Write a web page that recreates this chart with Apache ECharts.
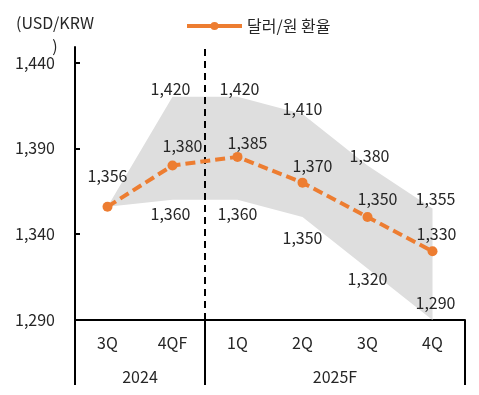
<!DOCTYPE html>
<html><head><meta charset="utf-8">
<script src="https://cdn.jsdelivr.net/npm/echarts@6/dist/echarts.min.js"></script>
<style>html,body{margin:0;padding:0;background:#fff}#c{width:479px;height:395px}</style>
</head><body><div id="c"></div>
<script>
const categories = ['3Q', '4QF', '1Q', '2Q', '3Q', '4Q'];
const years = ['2024', '2025F'];
const rate = [1356, 1380, 1385, 1370, 1350, 1330];
const upper = [1356, 1420, 1420, 1410, 1380, 1355];
const lower = [1356, 1360, 1360, 1350, 1320, 1290];
const yTicks = [1290, 1340, 1390, 1440];
const groupEdges = [0, 2, 6];   // category boundaries of year groups
const groupCenters = [1, 4];
const seriesName = '달러/원 환율';

const FONT = '"Noto Sans CJK KR", "Noto Sans", sans-serif';
const TXT = '#262626';
const fmt = v => Number(v).toLocaleString('en-US');

// label offsets (pixel nudges, style only)
const rateOff = [[0,-31],[10,-20],[10,-14],[10,-17],[10,-18],[4,-17]];
const upOff = [null,[-2,-8],[2,-8],[0,-5],[2,-10],[3,-9]];
const lowOff = [null,[-2,14],[0,14],[0,21],[0,10],[3,-17]];

const diff = upper.map((u, i) => u - lower[i]);

function labelData(vals, offs) {
  return vals.map((v, i) => ({
    value: v,
    label: offs[i] ? { show: true, offset: offs[i] } : { show: false }
  }));
}
const labelStyle = { position: 'inside', formatter: p => fmt(p.value), fontSize: 16, color: TXT, fontFamily: FONT, textBorderWidth: 0 };
function labelSeries(name, vals, offs) {
  return {
    name, type: 'scatter', data: labelData(vals, offs), z: 6,
    symbolSize: 1, itemStyle: { color: 'rgba(255,255,255,0)', opacity: 1 }, silent: true,
    label: labelStyle, emphasis: { disabled: true }
  };
}

const chart = echarts.init(document.getElementById('c'), null, { renderer: 'canvas' });
chart.setOption({
  animation: false,
  textStyle: { fontFamily: FONT },
  graphic: [{
    type: 'text', x: 55, y: 11,
    style: { text: '(USD/KRW\n)', fontSize: 16, fontFamily: FONT, fill: TXT, align: 'center', lineHeight: 23 }
  }],
  legend: {
    data: [seriesName], left: 180, top: 13,
    itemWidth: 55, itemHeight: 10, itemGap: 8,
    textStyle: { fontSize: 16, color: TXT, fontFamily: FONT },
    lineStyle: { type: 'solid', width: 4 }
  },
  grid: { left: 75, right: 14, top: 47, bottom: 75, containLabel: false },
  xAxis: [{
    type: 'category', data: categories, boundaryGap: true, position: 'bottom',
    axisLine: { show: true, lineStyle: { color: '#000', width: 2 } },
    axisTick: { show: false },
    axisLabel: { fontSize: 16, color: TXT, margin: 15, fontFamily: FONT },
    splitLine: { show: false }
  }, {
    type: 'value', min: 0, max: 6, position: 'bottom',
    axisLine: { show: false },
    axisTick: { show: true, customValues: groupEdges, length: 65, inside: false, lineStyle: { color: '#000', width: 2 } },
    axisLabel: { show: true, customValues: groupCenters, formatter: v => years[groupCenters.indexOf(v)], fontSize: 16, color: TXT, margin: 49, fontFamily: FONT },
    splitLine: { show: false }
  }],
  yAxis: {
    type: 'value', min: 1290, max: 1449,
    axisLine: { show: true, lineStyle: { color: '#000', width: 2 } },
    axisTick: { show: true, inside: true, length: 5, customValues: yTicks, lineStyle: { color: '#000', width: 2 } },
    axisLabel: { customValues: yTicks, formatter: fmt, fontSize: 16, color: TXT, margin: 20, fontFamily: FONT },
    splitLine: { show: false }
  },
  series: [{
    name: 'lowerBase', type: 'line', stack: 'band', data: lower, symbol: 'none',
    lineStyle: { opacity: 0 }, silent: true, z: 1
  }, {
    name: 'band', type: 'line', stack: 'band', data: diff, symbol: 'none',
    lineStyle: { opacity: 0 }, areaStyle: { color: '#DEDEDE', opacity: 1 }, silent: true, z: 1
  }, {
    name: 'divider', type: 'line', xAxisIndex: 1, data: [[groupEdges[1], yTicks[0]]], symbol: 'none',
    lineStyle: { opacity: 0 }, silent: true, z: 2,
    markLine: {
      silent: true, symbol: ['none', 'none'], label: { show: false },
      lineStyle: { color: '#000', width: 2, type: [7, 5] },
      data: [{ xAxis: groupEdges[1] }]
    }
  }, {
    name: seriesName, type: 'line', data: rate, z: 5,
    symbol: 'circle', symbolSize: 10,
    itemStyle: { color: '#ED7D31' },
    lineStyle: { color: '#ED7D31', width: 4, type: [10, 5] },
    label: { show: false }
  },
    labelSeries('rateLabels', rate, rateOff),
    labelSeries('upperLabels', upper, upOff),
    labelSeries('lowerLabels', lower, lowOff)
  ]
});
</script>
</body></html>
